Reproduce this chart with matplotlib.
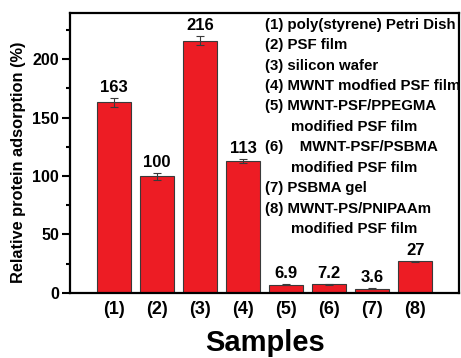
import matplotlib
matplotlib.use('Agg')
import matplotlib.pyplot as plt

plt.rcParams['font.family'] = ['Liberation Sans', 'DejaVu Sans']
plt.rcParams['font.weight'] = 'bold'

samples = ['(1)', '(2)', '(3)', '(4)', '(5)', '(6)', '(7)', '(8)']
values = [163, 100, 216, 113, 6.9, 7.2, 3.6, 27]
errors = [4, 3, 4, 2, 0.5, 0.8, 0.3, 0.5]
value_labels = ['163', '100', '216', '113', '6.9', '7.2', '3.6', '27']
legend_lines = ['(1) poly(styrene) Petri Dish',
                '(2) PSF film',
                '(3) silicon wafer',
                '(4) MWNT modfied PSF film',
                '(5) MWNT-PSF/PPEGMA',
                'modified PSF film',
                '(6)    MWNT-PSF/PSBMA',
                'modified PSF film',
                '(7) PSBMA gel',
                '(8) MWNT-PS/PNIPAAm',
                'modified PSF film']

fig = plt.figure(figsize=(4.61, 3.58), dpi=100)
ax = fig.add_axes([0.152, 0.182, 0.844, 0.783])

x = list(range(1, len(samples) + 1))
ax.bar(x, values, width=0.79, color='#ED1C24', edgecolor='#3a3a3a', linewidth=0.8,
       yerr=errors, error_kw=dict(ecolor='#3a3a3a', elinewidth=0.8, capsize=3, capthick=0.8))

for xi, v, e, lab in zip(x, values, errors, value_labels):
    ax.text(xi, v + e + 2.5, lab, ha='center', va='bottom', fontsize=12, fontweight='bold')

ax.set_xlim(-0.02, 9.02)
ax.set_ylim(0, 240)
ax.set_xticks(x)
ax.set_xticklabels(samples, fontsize=13, fontweight='bold')
ax.set_yticks([0, 50, 100, 150, 200])
ax.set_yticks([25, 75, 125, 175, 225], minor=True)
ax.tick_params(axis='y', labelsize=11.5, width=1.5, length=6, pad=2)
ax.tick_params(axis='y', which='minor', width=1.5, length=3)
ax.tick_params(axis='x', length=0, pad=6)
for s in ax.spines.values():
    s.set_linewidth(1.6)

ax.set_ylabel('Relative protein adsorption (%)', fontsize=11.8, fontweight='bold')
ax.yaxis.set_label_coords(-0.113, 0.466)
ax.set_xlabel('Samples', fontsize=21, fontweight='bold', labelpad=8)

y0 = 0.956
for i, line in enumerate(legend_lines):
    lx = 0.568 if line.startswith('modified') else 0.501
    ax.text(lx, y0 - i * 0.0728, line, transform=ax.transAxes, fontsize=10.8,
            fontweight='bold', ha='left', va='center')

fig.savefig('out.png', dpi=100)
